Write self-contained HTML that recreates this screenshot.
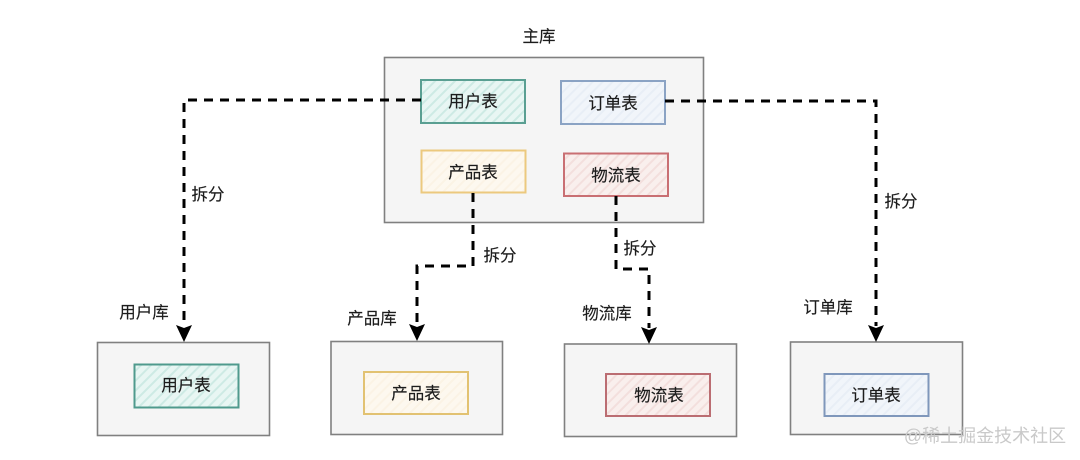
<!DOCTYPE html>
<html><head><meta charset="utf-8"><style>
html,body{margin:0;padding:0;background:#fff}
svg{display:block;filter:blur(.35px)}
text{font-family:"Liberation Sans","Noto Sans CJK SC",sans-serif;font-size:16.5px;fill:#1c1c1c;stroke:#1c1c1c;stroke-width:.15;text-anchor:middle;dominant-baseline:central}
.db{fill:#f5f5f5;stroke:#808080;stroke-width:1.6}
.e{fill:none;stroke:#000;stroke-width:3;stroke-dasharray:9 7}
</style></head><body>
<svg width="1080" height="460" viewBox="0 0 1080 460" xmlns="http://www.w3.org/2000/svg">
<defs>
<pattern id="g" width="7" height="7" patternUnits="userSpaceOnUse" patternTransform="rotate(45)"><rect width="7" height="7" fill="#e8f6f3"/><rect width="2" height="7" fill="#cdeae4"/></pattern>
<pattern id="b" width="7" height="7" patternUnits="userSpaceOnUse" patternTransform="rotate(45)"><rect width="7" height="7" fill="#f1f5fa"/><rect width="2" height="7" fill="#e8eef6"/></pattern>
<pattern id="y" width="7" height="7" patternUnits="userSpaceOnUse" patternTransform="rotate(45)"><rect width="7" height="7" fill="#fdf8ef"/><rect width="2" height="7" fill="#fbf3e5"/></pattern>
<pattern id="r" width="7" height="7" patternUnits="userSpaceOnUse" patternTransform="rotate(45)"><rect width="7" height="7" fill="#f9efed"/><rect width="2" height="7" fill="#f3dfdd"/></pattern>
</defs>

<rect class="db" x="384.5" y="57.5" width="319" height="165"/>
<rect class="db" x="97.5" y="342.5" width="172" height="93"/>
<rect class="db" x="331" y="341.5" width="171.5" height="93"/>
<rect class="db" x="564.5" y="344" width="172" height="92.5"/>
<rect class="db" x="790.5" y="342" width="172" height="92.5"/>

<g stroke-width="2">
<rect x="421" y="80" width="104" height="43" fill="url(#g)" stroke="#5a9f92"/>
<rect x="561" y="81" width="104" height="43" fill="url(#b)" stroke="#8ba3c4"/>
<rect x="421.5" y="150.5" width="104" height="42" fill="url(#y)" stroke="#ecc97e"/>
<rect x="564" y="153.5" width="104" height="42.5" fill="url(#r)" stroke="#c96f73"/>
<rect x="134.5" y="364.5" width="104" height="43" fill="url(#g)" stroke="#4f9a8d"/>
<rect x="364" y="372" width="104" height="42" fill="url(#y)" stroke="#e2c272"/>
<rect x="606" y="374" width="104" height="42" fill="url(#r)" stroke="#bb6d72"/>
<rect x="824.5" y="374" width="104" height="42" fill="url(#b)" stroke="#7f97bb"/>
</g>

<path class="e" d="M421 100H184V326"/>
<path class="e" d="M665 101H876V326"/>
<path class="e" d="M473 193V266H417V326"/>
<path class="e" d="M616 196V269H649V328"/>
<path d="M176 325L184 328L192 325L184 342Z"/>
<path d="M409 324L417 327L425 324L417 341Z"/>
<path d="M641 327L649 330L657 327L649 344Z"/>
<path d="M868 325L876 328L884 325L876 342Z"/>

<text x="539" y="37">主库</text>
<text x="473" y="102">用户表</text>
<text x="613" y="104">订单表</text>
<text x="473" y="173">产品表</text>
<text x="616" y="176">物流表</text>
<text x="186" y="386">用户表</text>
<text x="416" y="394">产品表</text>
<text x="659" y="396">物流表</text>
<text x="876" y="396">订单表</text>
<text x="144" y="313">用户库</text>
<text x="372" y="319">产品库</text>
<text x="607" y="314">物流库</text>
<text x="828" y="308">订单库</text>
<text x="208" y="195">拆分</text>
<text x="500" y="256">拆分</text>
<text x="640" y="249">拆分</text>
<text x="901" y="202">拆分</text>
<text x="985" y="436" style="font-size:18px;fill:#c9c9c9;stroke:none">@稀土掘金技术社区</text>
</svg>
</body></html>
